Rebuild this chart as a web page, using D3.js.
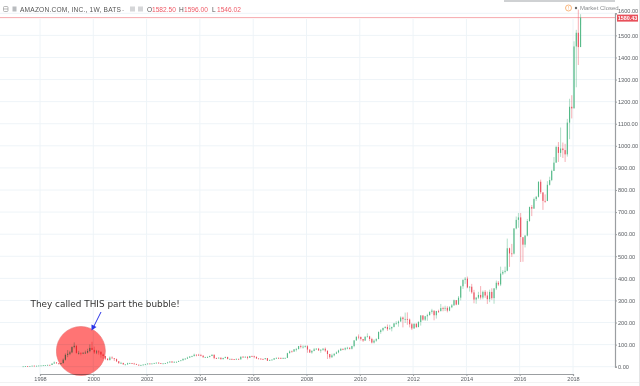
<!DOCTYPE html>
<html>
<head>
<meta charset="utf-8">
<script src="https://cdn.jsdelivr.net/npm/d3@7"></script>
<style>
  html, body { margin: 0; padding: 0; background: #fff; }
  svg { display: block; font-family: "Liberation Sans", sans-serif; }
</style>
</head>
<body>
<div id="chart"></div>
<script>
// monthly bars, May 1997 to Apr 2018
const closes = [
  1.7, 2.4, 2.3, 3.1, 4.4, 3.5, 4.1, 5.0,
  5.4, 6.5, 6.9, 8.2, 7.8, 14.2, 19.4, 15.3, 13.9, 16.6, 31.6, 53.5,
  58.5, 64.9, 89, 94.6, 62.6, 62.6, 60, 63, 63.9, 70.6, 85.1, 76.1,
  64.6, 68.9, 67, 55.2, 48.3, 36.3, 30.1, 41.5, 38.4, 34.4, 24.6, 15.6,
  17.3, 10.2, 10.2, 15.8, 16.7, 14.2, 12.5, 8.9, 6, 6.9, 9.5, 10.8,
  14.2, 14.1, 14.3, 16.7, 18.2, 16.2, 14.5, 14.9, 15.9, 19.4, 23.4, 18.9,
  21.9, 22, 26, 28.7, 35.9, 36.3, 41, 46.3, 48.4, 54.4, 54.2, 52.6,
  50.4, 43, 43.3, 43.6, 48.5, 54.4, 38.9, 38.1, 40.9, 34.1, 39.7, 44.3,
  35.2, 35.2, 34.3, 32.4, 35.5, 33.1, 45.1, 42.7, 45.3, 39.9, 48.5, 47.2,
  44.8, 37.4, 36.5, 35.2, 34.6, 38.7, 27, 30.8, 32.1, 38.1, 39.9, 39.5,
  37.7, 39.1, 39.8, 61.3, 69.1, 68.4, 78.5, 79.9, 93.2, 89.2, 90.6, 92.6,
  77.7, 64.5, 71.3, 78.6, 81.6, 73.3, 76.3, 81.3, 72.8, 57.2, 42.7, 51.3,
  58.8, 64.8, 73.4, 80.5, 78, 83.7, 85.8, 81.2, 93.4, 118.8, 135.9, 134.5,
  125.4, 118.4, 135.8, 137.1, 125.5, 109.3, 117.9, 124.8, 157.1, 165.2, 175.4, 180,
  169.6, 173.3, 180.1, 195.8, 196.7, 204.5, 222.5, 215.2, 216.2, 213.5, 192.3, 173.1,
  194.4, 179.7, 202.5, 231.9, 212.9, 228.4, 233.3, 248.3, 254.3, 232.9, 252, 250.9,
  265.5, 264.3, 266.5, 253.8, 269.2, 277.7, 301.2, 281, 312.6, 364, 393.6, 398.8,
  358.7, 362.1, 336.4, 304.1, 312.6, 324.8, 313, 339, 322.4, 305.5, 338.6, 310.4,
  354.5, 380.2, 372.1, 421.8, 429.2, 434.1, 536.2, 512.9, 511.9, 625.9, 664.8, 675.9,
  587, 552.5, 593.6, 659.6, 722.8, 715.6, 758.8, 769.2, 837.3, 789.8, 750.6, 749.9,
  823.5, 845, 886.5, 924, 994.6, 968, 987.8, 980.6, 961.4, 1105, 1176.8, 1169.5,
  1450, 1512, 1447, 1580.43
];
const highs = [
  2.0, 2.6, 2.7, 3.3, 4.6, 5.4, 4.5, 5.4,
  5.6, 6.7, 7.5, 9, 8.6, 14.7, 24, 20, 17, 17.5, 37, 60,
  75, 72, 92, 110, 97, 72, 65, 65, 73, 81, 101, 113,
  91, 76, 75, 70, 59, 48, 38, 47, 47, 39, 37, 26,
  22, 17, 11.5, 18, 18, 17, 17.5, 13, 9.5, 9, 11, 13,
  15.5, 16, 15.8, 17.5, 19, 19.8, 16.6, 16, 17, 22, 24, 25,
  24, 23.5, 27, 29.5, 36, 39, 45, 47, 50, 59, 55, 58,
  58, 50, 45, 47, 50, 55, 54, 41, 42, 41, 40, 45,
  44.5, 37, 36.5, 34.5, 37, 36, 46, 48, 46, 46, 49, 50,
  50, 45.5, 38, 38, 36, 39, 38.5, 31.5, 33, 38.5, 42, 42,
  42, 42, 41, 63, 74, 73, 80, 85, 94, 101, 97, 97,
  97, 78, 75, 85, 84, 85, 80, 85, 87, 72, 58, 59,
  60, 69, 77, 85, 83, 88, 90, 87, 95, 121, 136, 146,
  137, 125, 137, 151, 140, 131, 124, 129, 160, 170, 177, 183,
  191, 190, 181, 198, 206, 209, 228, 227, 245, 246, 218, 198,
  196, 197, 206, 234, 233, 230, 240, 250, 262, 251, 253, 258,
  284, 272, 276, 274, 274, 284, 304, 302, 320, 367, 394, 406,
  408, 365, 375, 348, 316, 339, 365, 345, 347, 340, 349, 355,
  356, 390, 388, 453, 437, 453, 580, 539, 556, 627, 680, 696,
  696, 581, 596, 669, 725, 732, 766, 773, 839, 847, 787, 780,
  840, 860, 892, 949, 1000, 1017, 1083, 1015, 1009, 1122, 1213, 1229,
  1473, 1525, 1617, 1596
];
const lows = [
  1.4, 1.6, 2.0, 2.2, 3.0, 3.2, 3.2, 3.9,
  4.2, 4.8, 6, 6.8, 6.8, 7.8, 13.5, 13.7, 10.5, 9.5, 14, 28,
  43, 52, 61, 83, 59, 55, 51, 57, 58, 60, 65, 76,
  58, 57, 55, 41, 36, 30, 28, 28, 37, 26, 21, 14,
  13, 10, 8.1, 9.5, 13, 13, 10.8, 8.5, 5.5, 5.5, 7, 8.5,
  10.6, 13, 13.4, 14, 15.5, 14.6, 13.5, 13, 13.7, 15, 18, 18.5,
  18.8, 20, 21.5, 26, 28, 33, 36, 39.5, 43, 46, 47, 49,
  47, 40, 41, 41, 43, 48, 34, 35, 37, 32.5, 33, 38,
  33, 33.5, 32, 30.5, 32, 32, 32.5, 41, 40.5, 33, 39.5, 45,
  38, 35, 35, 33, 31, 32, 25.8, 26, 29, 31, 36.5, 37,
  36.3, 36, 37, 39, 60, 66, 67, 69, 78, 83, 82, 87,
  63, 62, 59, 70, 76, 73, 63, 72, 66, 35, 36, 40,
  47, 57, 61, 71, 75, 74, 79, 78, 78, 88, 118, 124,
  118, 112, 117, 134, 116, 105, 105, 113, 125, 149, 160, 173,
  162, 168, 160, 178, 190, 181, 204, 178, 198, 190, 178, 166,
  172, 175, 178, 186, 208, 207, 208, 232, 240, 210, 218, 243,
  253, 251, 252, 246, 251, 265, 276, 278, 282, 300, 352, 375,
  355, 340, 330, 287, 285, 306, 304, 305, 312, 284, 292, 303,
  285, 347, 365, 365, 415, 422, 432, 452, 497, 508, 622, 629,
  474, 475, 540, 590, 656, 682, 715, 750, 766, 782, 710, 742,
  753, 820, 840, 886, 923, 927, 950, 945, 927, 951, 1030, 1124,
  1170, 1265, 1366, 1546
];
const priceTicks = [0, 100, 200, 300, 400, 500, 600, 700, 800, 900, 1000, 1100, 1200, 1300, 1400, 1500, 1600];
const yearTicks = [1998, 2000, 2002, 2004, 2006, 2008, 2010, 2012, 2014, 2016, 2018];
const lastPrice = 1580.43;
const headerQuotes = [["O", "1582.50"], ["H", "1596.00"], ["L", "1546.02"]];

const width = 640;
const height = 386;
const axisX = 615;
const axisY = 374;

const up = "#53b987";
const down = "#eb4d5c";

var svg = d3.select("#chart").append("svg").attr("width", width).attr("height", height);

// 0.00 sits at 366.7 and 1600.00 at 13.3
var y = d3.scaleLinear().domain([0, 1600]).range([366.7, 13.3]);
var x = d3.scaleTime()
  .domain([new Date(1998, 0, 1), new Date(2018, 0, 1)])
  .range([40, 573]);

var bars = closes.map((c, i) => ({
  date: new Date(1997, 4 + i, 15),
  open: i === 0 ? 1.5 : closes[i - 1],
  close: c,
  high: highs[i],
  low: lows[i],
}));

var soft = svg.append("g").style("filter", "blur(0.4px)");

// outer frame of the screenshot
soft.append("line").attr("x1", 0).attr("x2", 640).attr("y1", 382.5).attr("y2", 382.5).attr("stroke", "#f1f2f3");
soft.append("line").attr("x1", 639.5).attr("x2", 639.5).attr("y1", 0).attr("y2", 386).attr("stroke", "#e4e5e6");

// grid
soft.append("g").selectAll("line").data(priceTicks).join("line")
  .attr("x1", 0).attr("x2", axisX)
  .attr("y1", (d) => y(d)).attr("y2", (d) => y(d))
  .attr("stroke", "#eef4f8");
soft.append("g").selectAll("line").data(yearTicks).join("line")
  .attr("x1", (d) => x(new Date(d, 0, 1))).attr("x2", (d) => x(new Date(d, 0, 1)))
  .attr("y1", 19).attr("y2", axisY)
  .attr("stroke", "#eef4f8");

// last price line
soft.append("line")
  .attr("x1", 0).attr("x2", axisX)
  .attr("y1", y(lastPrice)).attr("y2", y(lastPrice))
  .attr("stroke", "#f7a9ae").attr("stroke-width", 1);

// top strip
soft.append("rect").attr("x", 504).attr("y", 0).attr("width", 111).attr("height", 2).attr("fill", "#cfd1d3");

// candles
var candles = soft.append("g");
candles.selectAll("line").data(bars).join("line")
  .attr("x1", (d) => x(d.date)).attr("x2", (d) => x(d.date))
  .attr("y1", (d) => y(d.high)).attr("y2", (d) => y(d.low))
  .attr("stroke", (d) => (d.close >= d.open ? up : down))
  .attr("stroke-opacity", 0.45)
  .attr("stroke-width", 1);
candles.selectAll("rect").data(bars).join("rect")
  .attr("x", (d) => x(d.date) - 0.55)
  .attr("width", 1.1)
  .attr("y", (d) => y(Math.max(d.open, d.close)))
  .attr("height", (d) => Math.max(0.8, Math.abs(y(d.open) - y(d.close))))
  .attr("fill", (d) => (d.close >= d.open ? up : down));

// axes
var yAxis = soft.append("g")
  .attr("transform", `translate(${axisX},0)`)
  .call(d3.axisRight(y).tickValues(priceTicks).tickFormat(d3.format(".2f")).tickSize(2).tickPadding(1));
var xAxis = soft.append("g")
  .attr("transform", `translate(0,${axisY})`)
  .call(d3.axisBottom(x)
    .tickValues(yearTicks.map((d) => new Date(d, 0, 1)))
    .tickFormat(d3.timeFormat("%Y")).tickSize(2).tickPadding(1));
[yAxis, xAxis].forEach((a) => {
  a.select(".domain").attr("stroke", "#9b9ea1").attr("stroke-width", 1.2);
  a.selectAll(".tick line").attr("stroke", "#9b9ea1");
  a.selectAll("text")
    .style("font-family", "Liberation Sans, sans-serif")
    .style("font-size", "5.6px")
    .attr("fill", "#5d6166");
});
// the tag below would sit on the top label
yAxis.selectAll(".tick text").filter((d) => d === 1600).attr("dy", "-0.1em");

// price tag
soft.append("rect").attr("x", 617).attr("y", y(lastPrice) - 3).attr("width", 21).attr("height", 7).attr("fill", "#e8505b");
soft.append("text").attr("x", 627.5).attr("y", y(lastPrice) + 2.5)
  .attr("text-anchor", "middle").attr("fill", "#fff")
  .style("font-size", "5.4px").style("font-weight", "bold")
  .text(lastPrice.toFixed(2));

// header
var header = soft.append("g");
header.append("rect").attr("x", 3.5).attr("y", 6.5).attr("width", 4.5).attr("height", 5).attr("rx", 1)
  .attr("fill", "none").attr("stroke", "#9a9a9a").attr("stroke-width", 0.7);
header.append("line").attr("x1", 3.5).attr("x2", 8).attr("y1", 9).attr("y2", 9).attr("stroke", "#9a9a9a").attr("stroke-width", 0.7);
header.append("rect").attr("x", 12.5).attr("y", 6.5).attr("width", 4).attr("height", 5).attr("fill", "#b9bcbf");
header.append("text").attr("x", 20).attr("y", 11.5).attr("fill", "#555")
  .style("font-size", "6.6px").style("letter-spacing", "0.2px")
  .text("AMAZON.COM, INC., 1W, BATS");
header.append("text").attr("x", 122).attr("y", 11.5).attr("fill", "#999").style("font-size", "6.6px").text("-");
header.append("rect").attr("x", 130).attr("y", 6.5).attr("width", 5).attr("height", 5).attr("fill", "#d5d6d8");
header.append("rect").attr("x", 138).attr("y", 6.5).attr("width", 5).attr("height", 5).attr("fill", "#d5d6d8");
var quoteX = [147, 179, 212];
headerQuotes.forEach((q, i) => {
  header.append("text").attr("x", quoteX[i]).attr("y", 11.5).attr("fill", "#555").style("font-size", "6.6px").text(q[0]);
  header.append("text").attr("x", quoteX[i] + 5).attr("y", 11.5).attr("fill", "#ee5a66").style("font-size", "6.6px").text(q[1]);
});

// market closed marker
soft.append("circle").attr("cx", 568.5).attr("cy", 8).attr("r", 3).attr("fill", "#fff").attr("stroke", "#f7a35c").attr("stroke-width", 0.8);
soft.append("text").attr("x", 568.5).attr("y", 10).attr("text-anchor", "middle").attr("fill", "#f7a35c").style("font-size", "5px").text("!");
soft.append("circle").attr("cx", 576).attr("cy", 8).attr("r", 1.2).attr("fill", "#666");
soft.append("text").attr("x", 580).attr("y", 10).attr("fill", "#8a8d90").style("font-size", "6px").text("Market Closed");

// annotation
svg.append("circle")
  .attr("cx", x(new Date(1999, 6, 15))).attr("cy", y(71))
  .attr("r", 24.5)
  .attr("fill", "#ff7474")
  .style("mix-blend-mode", "multiply")
  .attr("stroke", "#e87070").attr("stroke-width", 0.6);

svg.append("text").attr("x", 30.5).attr("y", 307)
  .attr("fill", "#333")
  .style("font-family", "DejaVu Sans, sans-serif")
  .style("font-size", "8.9px")
  .text("They called THIS part the bubble!");

svg.append("path").attr("d", "M101,312L92.5,329").attr("stroke", "#2a35e8").attr("stroke-width", 1).attr("fill", "none");
svg.append("path").attr("d", "M91.5,330.5L91.5,324.5L96.5,327Z").attr("fill", "#2a35e8");
</script>
</body>
</html>
